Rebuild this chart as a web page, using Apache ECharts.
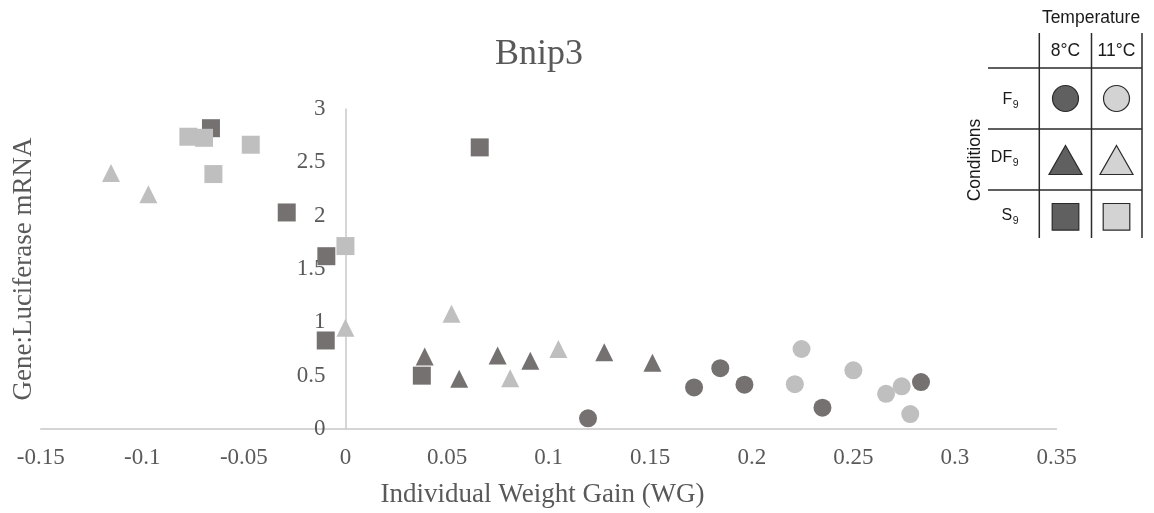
<!DOCTYPE html>
<html><head><meta charset="utf-8">
<script src="https://cdn.jsdelivr.net/npm/echarts@6/dist/echarts.min.js"></script>
<style>html,body{margin:0;padding:0;background:#fff}#c{width:1154px;height:513px}</style>
</head><body><div id="c"></div>
<script>
// ---- data (x = Individual Weight Gain, y = Gene:Luciferase mRNA) ----
const f9_8C  = [[0.1194,0.10],[0.1716,0.39],[0.1845,0.57],[0.1964,0.415],[0.2348,0.20],[0.2833,0.44]];
const f9_11C = [[0.2212,0.42],[0.2245,0.75],[0.2500,0.55],[0.2661,0.33],[0.2738,0.40],[0.2780,0.14]];
const df9_8C  = [[0.0390,0.68],[0.0560,0.47],[0.0749,0.69],[0.0910,0.64],[0.1274,0.72],[0.1511,0.62]];
const df9_11C = [[-0.1154,2.40],[-0.0970,2.20],[0.0000,0.95],[0.0522,1.08],[0.0811,0.475],[0.1048,0.75]];
const s9_8C  = [[-0.0662,2.82],[-0.0289,2.03],[-0.0094,1.62],[-0.0097,0.83],[0.0376,0.50],[0.0661,2.64]];
const s9_11C = [[-0.0773,2.74],[-0.0696,2.73],[-0.0466,2.665],[-0.0650,2.39],[0.0000,1.715]];

const xTickLabels = ['-0.15','-0.1','-0.05','0','0.05','0.1','0.15','0.2','0.25','0.3','0.35'];
const yTickLabels = ['0','0.5','1','1.5','2','2.5','3'];

const titleText = 'Bnip3';
const xName = 'Individual Weight Gain (WG)';
const yName = 'Gene:Luciferase mRNA';

// ---- styles ----
const DARK = '#767171', LIGHT = '#bfbfbf';
const TXT = '#595959';
const SERIF = '"Liberation Serif","Times New Roman",serif';
const SANS = '"Liberation Sans",Arial,sans-serif';
const LG_DARK = '#606060', LG_LIGHT = '#d3d3d3', LG_LINE = '#2a2a2a', LG_TXT = '#1a1a1a';

function lookup(labels, min, step){
  return function(v){ const i = Math.round((v - min)/step); return labels[i] !== undefined ? labels[i] : ''; };
}

function sc(name, data, symbol, color){
  return { name, type:'scatter', data, symbol, symbolSize:18,
           itemStyle:{color, opacity:1}, emphasis:{disabled:true} };
}

const mctx = document.createElement('canvas').getContext('2d');
function textW(t, font){ mctx.font = font; return mctx.measureText(t).width; }

// legend table graphics
const g = [];
const lineStyle = {stroke:LG_LINE, lineWidth:1.5};
[1039.3,1091.5,1142].forEach(x=>g.push({type:'line',shape:{x1:x,y1:33,x2:x,y2:238},style:lineStyle,silent:true}));
[68,129,190].forEach(y=>g.push({type:'line',shape:{x1:988,y1:y,x2:1142,y2:y},style:lineStyle,silent:true}));
function txt(x,y,text,size,align,extra){
  g.push(Object.assign({type:'text',x,y,silent:true,style:{text,fill:LG_TXT,font:size+'px '+SANS,align:align||'center',verticalAlign:'middle'}},extra||{}));
}
txt(1091,18,'Temperature',17.5);
txt(1065.5,51,'8°C',17.5);
txt(1116.5,51,'11°C',17.5);
txt(975,160,'Conditions',17.5,'center',{rotation:Math.PI/2});
// row labels with subscript 9
const rowLabels = [['F',99.5],['DF',158],['S',215.5]];
const MAIN_FS = 16, SUB_FS = 10.5, ROW_RIGHT = 1018.5;
rowLabels.forEach(([t,y])=>{
  const subW = textW('9', SUB_FS+'px '+SANS);
  txt(ROW_RIGHT, y+5.5, '9', SUB_FS, 'right');
  txt(ROW_RIGHT - subW - 0.5, y, t, MAIN_FS, 'right');
});
// legend markers
const cols = [[1065.5,LG_DARK],[1116.5,LG_LIGHT]];
cols.forEach(([cx,fill])=>{
  g.push({type:'circle',shape:{cx,cy:98.5,r:13},style:{fill,stroke:LG_LINE,lineWidth:1.2},silent:true});
  g.push({type:'polygon',shape:{points:[[cx,145.5],[cx+16.5,174.5],[cx-16.5,174.5]]},style:{fill,stroke:LG_LINE,lineWidth:1.2},silent:true});
  g.push({type:'rect',shape:{x:cx-13.3,y:203.5,width:26.6,height:26.6},style:{fill,stroke:LG_LINE,lineWidth:1.2},silent:true});
});
// chart title
g.push({type:'text',x:539,y:55,silent:true,style:{text:titleText,fill:TXT,font:'36px '+SERIF,align:'center',verticalAlign:'middle'}});

// plot area layout
const GRID_LEFT = 40.7, GRID_RIGHT = 97.5;
const PLOT_W = 1154 - GRID_LEFT - GRID_RIGHT;
// y axis sits where x = 0 (0.15 of the 0.5-wide x range from the left edge)
const Y_AXIS_SHIFT = PLOT_W * (0 - (-0.15)) / (0.35 - (-0.15));

const chart = echarts.init(document.getElementById('c'), null, {renderer:'canvas'});
chart.setOption({
  animation:false,
  backgroundColor:'#fff',
  grid:{left:GRID_LEFT, right:GRID_RIGHT, top:109, bottom:84, outerBoundsMode:'none'},
  xAxis:{
    type:'value', min:-0.15, max:0.35, interval:0.05,
    axisLine:{show:true, onZero:true, lineStyle:{color:'#c8c8c8', width:1.5}},
    axisTick:{show:false}, splitLine:{show:false},
    axisLabel:{color:TXT, fontFamily:SERIF, fontSize:23, margin:17, formatter:lookup(xTickLabels,-0.15,0.05)},
    name:xName, nameLocation:'middle', nameGap:52,
    nameTextStyle:{color:TXT, fontFamily:SERIF, fontSize:27, padding:[0,12,0,0]}
  },
  yAxis:{
    type:'value', min:0, max:3, interval:0.5, position:'left', offset:-Y_AXIS_SHIFT,
    axisLine:{show:true, onZero:false, lineStyle:{color:'#c8c8c8', width:1.5}},
    axisTick:{show:false}, splitLine:{show:false},
    axisLabel:{color:TXT, fontFamily:SERIF, fontSize:23, margin:20, formatter:lookup(yTickLabels,0,0.5)},
    name:yName, nameLocation:'middle', nameGap:308,
    nameTextStyle:{color:TXT, fontFamily:SERIF, fontSize:27}
  },
  series:[
    sc('F9 8°C', f9_8C, 'circle', DARK),
    sc('F9 11°C', f9_11C, 'circle', LIGHT),
    sc('DF9 8°C', df9_8C, 'triangle', DARK),
    sc('DF9 11°C', df9_11C, 'triangle', LIGHT),
    sc('S9 8°C', s9_8C, 'rect', DARK),
    sc('S9 11°C', s9_11C, 'rect', LIGHT)
  ],
  graphic:g
});
</script></body></html>
